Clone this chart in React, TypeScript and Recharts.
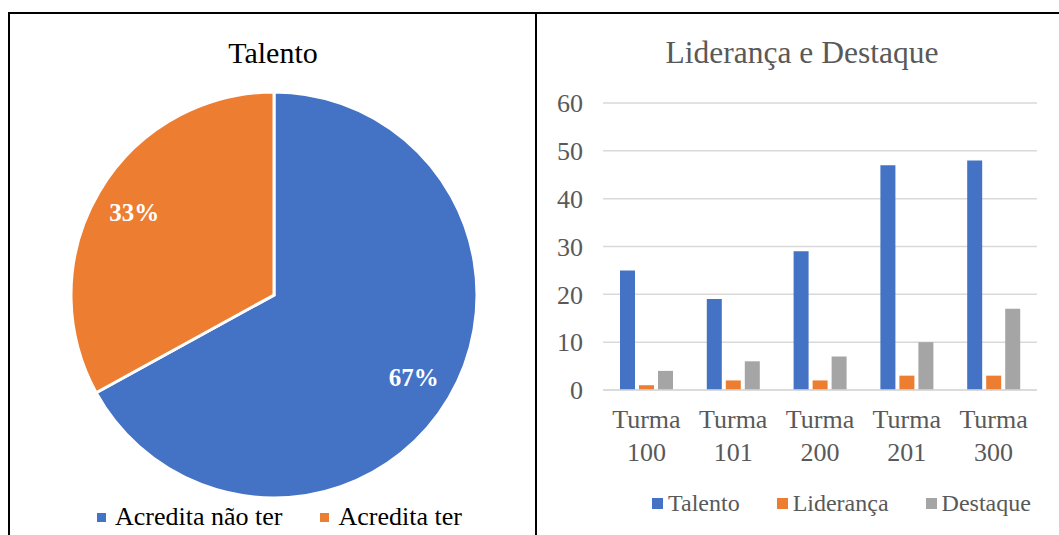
import { PieChart, Pie, Cell, BarChart, Bar, XAxis, YAxis, CartesianGrid } from 'recharts'

const FONT = '"Liberation Serif", "Times New Roman", serif'

const pieNames = ['Acredita não ter', 'Acredita ter']
const pieValues = [67, 33]
const pieColors = ['#4472C4', '#ED7D31']

const turmas = ['Turma 100', 'Turma 101', 'Turma 200', 'Turma 201', 'Turma 300']
const talento = [25, 19, 29, 47, 48]
const lideranca = [1, 2, 2, 3, 3]
const destaque = [4, 6, 7, 10, 17]
const yTicks = [0, 10, 20, 30, 40, 50, 60]

const seriesNames = ['Talento', 'Liderança', 'Destaque']
const seriesColors = ['#4472C4', '#ED7D31', '#A5A5A5']

const pieData = pieNames.map((name, i) => ({ name, value: pieValues[i] }))
const barData = turmas.map((t, i) => ({
  turma: t,
  Talento: talento[i],
  'Liderança': lideranca[i],
  Destaque: destaque[i],
}))

const RAD = Math.PI / 180

function PieLabel(props: any) {
  const { cx, cy, midAngle, outerRadius, value } = props
  const r = outerRadius * 0.8
  const x = cx + r * Math.cos(-midAngle * RAD)
  const y = cy + r * Math.sin(-midAngle * RAD)
  return (
    <text x={x} y={y} fill="#fff" textAnchor="middle" dominantBaseline="central" fontFamily={FONT} fontSize={25} fontWeight="bold">
      {value}%
    </text>
  )
}

function TurmaTick(props: any) {
  const { x, y, payload } = props
  const [a, b] = String(payload.value).split(' ')
  return (
    <text x={x} y={y} textAnchor="middle" fill="#595959" fontFamily={FONT} fontSize={26}>
      <tspan x={x} dy={38}>{a}</tspan>
      <tspan x={x} dy={33}>{b}</tspan>
    </text>
  )
}

const titleStyle = {
  position: 'absolute' as const,
  top: 38,
  height: 30,
  lineHeight: '30px',
  fontFamily: FONT,
  textAlign: 'center' as const,
  whiteSpace: 'nowrap' as const,
}

export default function App() {
  return (
    <div style={{ position: 'absolute', left: 0, top: 0, width: 1059, height: 535, overflow: 'hidden', background: '#fff' }}>
      {/* frame lines */}
      <div style={{ position: 'absolute', left: 8, top: 12, width: 1051, height: 2, background: '#000' }} />
      <div style={{ position: 'absolute', left: 8, top: 12, width: 2, height: 523, background: '#000' }} />
      <div style={{ position: 'absolute', left: 535, top: 12, width: 2, height: 523, background: '#000' }} />

      {/* left: pie */}
      <div style={{ ...titleStyle, left: 173, width: 200, fontSize: 30, color: '#000' }}>Talento</div>
      <div style={{ position: 'absolute', left: 9, top: 12 }}>
        <PieChart width={526} height={523} margin={{ top: 0, right: 0, bottom: 0, left: 0 }}>
          <Pie
            data={pieData}
            dataKey="value"
            nameKey="name"
            cx={265}
            cy={283}
            outerRadius={203}
            startAngle={90}
            endAngle={-270}
            stroke="#fff"
            strokeWidth={3}
            label={PieLabel}
            labelLine={false}
            isAnimationActive={false}
          >
            {pieData.map((_, i) => (
              <Cell key={i} fill={pieColors[i]} />
            ))}
          </Pie>
        </PieChart>
      </div>
      <div style={{ position: 'absolute', left: 97, top: 517 - 15, height: 30, display: 'flex', alignItems: 'center', fontFamily: FONT, fontSize: 26, color: '#000', whiteSpace: 'nowrap' }}>
        {pieNames.map((n, i) => (
          <span key={n} style={{ display: 'flex', alignItems: 'center', marginRight: i === 0 ? 38 : 0 }}>
            <span style={{ display: 'inline-block', width: 9, height: 9, background: pieColors[i], marginRight: 9 }} />
            {n}
          </span>
        ))}
      </div>

      {/* right: bars */}
      <div style={{ ...titleStyle, left: 652, width: 300, fontSize: 31.5, color: '#595959' }}>Liderança e Destaque</div>
      <div style={{ position: 'absolute', left: 537, top: 12 }}>
        <BarChart
          width={522}
          height={523}
          data={barData}
          margin={{ top: 91, right: 22, left: 16, bottom: 65 }}
          barGap={4}
        >
          <CartesianGrid vertical={false} stroke="#d9d9d9" strokeWidth={1.5} />
          <XAxis
            dataKey="turma"
            axisLine={{ stroke: '#d9d9d9', strokeWidth: 1.5 }}
            tickLine={false}
            tickSize={0}
            tickMargin={0}
            height={80}
            interval={0}
            tick={TurmaTick}
          />
          <YAxis
            domain={[0, 60]}
            ticks={yTicks}
            axisLine={false}
            tickLine={false}
            tickSize={0}
            tickMargin={20}
            width={50}
            tick={{ fill: '#595959', fontFamily: FONT, fontSize: 26 }}
          />
          {seriesNames.map((s, i) => (
            <Bar key={s} dataKey={s} fill={seriesColors[i]} barSize={15} isAnimationActive={false} />
          ))}
        </BarChart>
      </div>
      <div style={{ position: 'absolute', left: 652, top: 503 - 15, height: 30, display: 'flex', alignItems: 'center', fontFamily: FONT, fontSize: 24, color: '#595959', whiteSpace: 'nowrap' }}>
        {seriesNames.map((n, i) => (
          <span key={n} style={{ display: 'flex', alignItems: 'center', marginRight: i < 2 ? 37 : 0 }}>
            <span style={{ display: 'inline-block', width: 11, height: 11, background: seriesColors[i], marginRight: 5 }} />
            {n}
          </span>
        ))}
      </div>
    </div>
  )
}
